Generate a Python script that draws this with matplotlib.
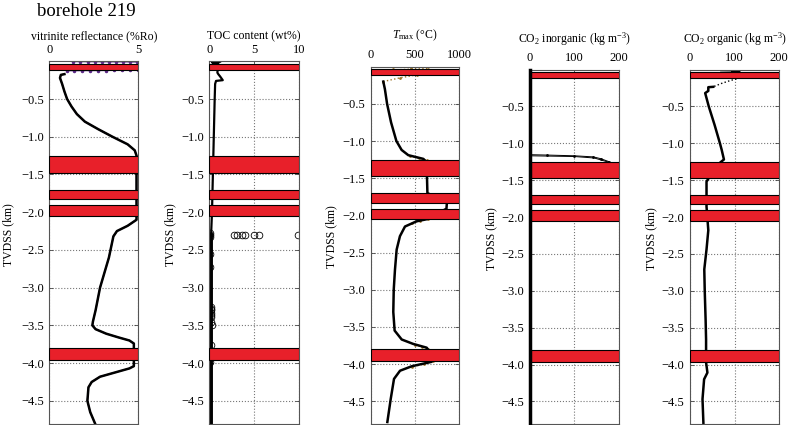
import numpy as np
import matplotlib
matplotlib.use("Agg")
import matplotlib.pyplot as plt

plt.rcParams['font.family'] = ['Liberation Serif', 'DejaVu Serif']
plt.rcParams['mathtext.fontset'] = 'custom'
plt.rcParams['mathtext.rm'] = 'Liberation Serif'
plt.rcParams['mathtext.it'] = 'Liberation Serif:italic'

# Reservoir intervals (km, negative down)
bands = [(-0.03, -0.11), (-1.26, -1.475), (-1.70, -1.83), (-1.91, -2.05), (-3.80, -3.96)]

# vitrinite reflectance (%Ro)
vr_depth = [-0.17, -0.18, -0.22, -0.3, -0.4, -0.5, -0.6, -0.7, -0.8, -0.9, -1.0, -1.1,
            -1.18, -1.25, -2.1, -2.18, -2.25, -2.32, -2.6, -3.0, -3.3, -3.45, -3.5,
            -3.55, -3.61, -3.66, -3.7, -3.74, -4.04, -4.07, -4.13, -4.18, -4.25, -4.32,
            -4.5, -4.65, -4.8]
vr_val = [0.85, 0.65, 0.6, 0.72, 0.85, 1.0, 1.25, 1.55, 2.0, 2.75, 3.55, 4.4,
          4.8, 4.9, 4.9, 4.4, 3.8, 3.6, 3.35, 2.85, 2.6, 2.45, 2.42,
          2.6, 3.2, 3.9, 4.5, 4.75, 4.75, 4.5, 3.6, 2.85, 2.38, 2.2,
          2.14, 2.3, 2.57]
vr_top_a = [1.35, 1.75, 2.15, 2.55, 2.95, 3.35, 3.75, 4.15, 4.55, 4.9]
vr_top_a_depth = [-0.005, -0.005, -0.006, -0.006, -0.007, -0.007, -0.008, -0.008, -0.009, -0.01]
vr_top_b = [0.98, 1.4, 1.85, 2.3, 2.75, 3.2, 3.65, 4.1, 4.55, 5.0]
vr_top_b_depth = [-0.125, -0.125, -0.124, -0.124, -0.123, -0.122, -0.121, -0.12, -0.118, -0.112]

# TOC content (wt%)
toc_depth = [-0.005, -0.015, -0.025, -0.15, -0.17, -0.2, -0.25, -0.26, -0.3, -0.5, -1.0,
             -1.5, -2.0, -2.3, -2.5, -3.0, -3.5, -4.0, -4.5, -4.8]
toc_val = [1.2, 0.3, 1.0, 0.9, 1.0, 1.2, 1.5, 0.75, 0.65, 0.6, 0.5,
           0.4, 0.3, 0.2, 0.2, 0.2, 0.2, 0.2, 0.2, 0.2]
toc_meas_depth = [-2.27, -2.30, -2.33, -2.30, -2.30, -2.30, -2.30, -2.30, -2.30, -2.30,
                  -2.55, -2.72, -3.25, -3.28, -3.30, -3.33, -3.36, -3.39, -3.46, -3.50,
                  -3.76, -3.98]
toc_meas_val = [0.1, 0.1, 0.1, 2.7, 3.1, 3.6, 4.0, 5.0, 5.5, 9.9,
                0.1, 0.1, 0.15, 0.15, 0.2, 0.15, 0.2, 0.15, 0.2, 0.25,
                0.15, 0.1]

# Tmax (degC)
tmax_depth = [-0.2, -0.3, -0.5, -0.75, -1.0, -1.12, -1.19, -1.24, -1.27,
              -1.47, -1.70, -1.83, -1.91, -2.05, -2.08, -2.15, -2.28, -2.46, -2.73,
              -3.0, -3.3, -3.55, -3.67, -3.73, -3.78, -3.81, -3.96, -3.97, -4.03,
              -4.09, -4.2, -4.47, -4.78]
tmax_val = [142, 160, 185, 230, 290, 349, 424, 594, 620,
            635, 640, 860, 855, 640, 518, 387, 330, 293, 274,
            260, 255, 270, 350, 481, 632, 650, 690, 688, 463,
            331, 263, 226, 188]
tmax_alt = [
    ([-0.2, -0.15, -0.11], [142, 330, 518]),
    ([-0.005, -0.015, -0.025], [250, 450, 650]),
    ([-1.2, -1.23, -1.26], [440, 540, 640]),
    ([-2.05, -2.07, -2.1], [650, 560, 470]),
    ([-3.74, -3.77, -3.8], [500, 580, 650]),
    ([-3.96, -4.0, -4.04], [700, 600, 470]),
]

# CO2 inorganic (kg m-3)
co2i_depth = [0.0, -4.8]
co2i_val = [0, 0]
co2i_thin_depth = [-1.155, -1.16, -1.17, -1.185, -1.21, -1.25]
co2i_thin_val = [0, 38, 100, 143, 160, 178]
co2i_thin2_depth = [-1.17, -1.18, -1.2, -1.255]
co2i_thin2_val = [0, 100, 145, 176]

# CO2 organic (kg m-3)
co2o_depth = [-0.235, -0.24, -0.29, -0.32, -0.5, -0.75, -1.0, -1.09, -1.22, -1.3,
              -1.52, -1.86, -2.18, -2.44, -2.71, -3.0, -3.4, -3.66, -3.97, -4.11,
              -4.2, -4.47, -4.79]
co2o_val = [52, 41, 41, 34, 42, 55, 67, 71, 76, 60,
            37, 37, 41, 37, 32, 33, 35, 36, 36, 39,
            31.6, 28, 30]
co2o_top_depth = [-0.01, -0.015, -0.025]
co2o_top_val = [70, 112, 95]
co2o_dot_depth = [-0.115, -0.15, -0.19, -0.235]
co2o_dot_val = [112, 90, 70, 52]

titles = ['vitrinite reflectance (%Ro)', 'TOC content (wt%)', r'$T_{\rm max}$ (°C)',
          r'CO$_2$ inorganic (kg m$^{-3}$)', r'CO$_2$ organic (kg m$^{-3}$)']
xlims = [(0, 5), (0, 10), (0, 1000), (0, 200), (0, 200)]
xticks = [[0, 5], [0, 5, 10], [0, 500, 1000], [0, 100, 200], [0, 100, 200]]
yticks = [-4.5, -4.0, -3.5, -3.0, -2.5, -2.0, -1.5, -1.0, -0.5]

W, H = 789, 425
lefts = [49.3, 209.3, 370.7, 530, 690]
rights = [138.3, 299, 459.3, 618.7, 779.3]
tops = [61.3, 61.3, 66.7, 69.5, 69.5]
bottom = 423.5
title_y = [39, 39, 38.5, 42.3, 42.3]
ylab_x = [8, 170, 331, 491, 651]

fig = plt.figure(figsize=(W / 100, H / 100), dpi=100)
fig.text(37 / W, 1 - 16 / H, 'borehole 219', fontsize=13.5, va='baseline', ha='left')

axes = []
for i in range(5):
    ax = fig.add_axes([lefts[i] / W, 1 - bottom / H, (rights[i] - lefts[i]) / W,
                       (bottom - tops[i]) / H])
    ax.set_xlim(*xlims[i])
    ax.set_ylim(-4.8, 0)
    ax.set_xticks(xticks[i])
    ax.set_yticks(yticks)
    ax.xaxis.tick_top()
    ax.tick_params(direction='in', length=3, width=0.6, labelsize=9, pad=4,
                   top=True, bottom=False, left=True, right=True, colors='#444',
                   labelcolor='black')
    ax.grid(True, linestyle=':', color='#777777', linewidth=0.8)
    ax.set_axisbelow(True)
    for s in ax.spines.values():
        s.set_color('#555555')
        s.set_linewidth(0.8)
    for y0, y1 in bands:
        ax.axhspan(y0, y1, facecolor='#e8202a', edgecolor='black', linewidth=0.8, zorder=3)
    cx = (lefts[i] + rights[i]) / 2
    fig.text(cx / W, 1 - title_y[i] / H, titles[i], fontsize=8.5, ha='center', va='baseline')
    cy = (tops[i] + bottom) / 2 - 8
    fig.text(ylab_x[i] / W, 1 - cy / H, 'TVDSS (km)', fontsize=8.5, rotation=90,
             ha='center', va='center')
    axes.append(ax)

ax1, ax2, ax3, ax4, ax5 = axes

ax1.plot(vr_top_a, vr_top_a_depth, color='#5b2a86', lw=0.8, marker='.', ms=3, zorder=2)
ax1.plot(vr_top_b, vr_top_b_depth, color='#5b2a86', lw=0.8, marker='.', ms=3, zorder=2)
ax1.plot(vr_val, vr_depth, color='#3a1a5a', lw=1.0, zorder=2)
ax1.plot(vr_val, vr_depth, color='black', lw=1.8, zorder=2)

ax2.plot(toc_val, toc_depth, color='black', lw=1.6, zorder=2)
ax2.plot(toc_val[13:], toc_depth[13:], color='black', lw=2.8, zorder=2)
ax2.plot(toc_meas_val, toc_meas_depth, linestyle='none', marker='o', ms=4.8,
         mfc='none', mec='black', mew=0.6, zorder=2)

for d, v in tmax_alt:
    ax3.plot(v, d, color='#a0762a', lw=1.0, linestyle=':', marker='.', ms=2, zorder=2)
ax3.plot(tmax_val, tmax_depth, color='black', lw=1.8, zorder=2)

ax4.plot(co2i_val, co2i_depth, color='black', lw=2.5, clip_on=False, zorder=4)
ax4.plot(co2i_thin_val, co2i_thin_depth, color='black', lw=0.7, marker='.', ms=2, zorder=2)
ax4.plot(co2i_thin2_val, co2i_thin2_depth, color='black', lw=0.7, zorder=2)

ax5.plot(co2o_top_val, co2o_top_depth, color='black', lw=1.6, zorder=2)
ax5.plot(co2o_dot_val, co2o_dot_depth, color='black', lw=1.0, linestyle=':', zorder=2)
ax5.plot(co2o_val, co2o_depth, color='black', lw=1.8, zorder=2)

fig.savefig('out.png', dpi=100)
